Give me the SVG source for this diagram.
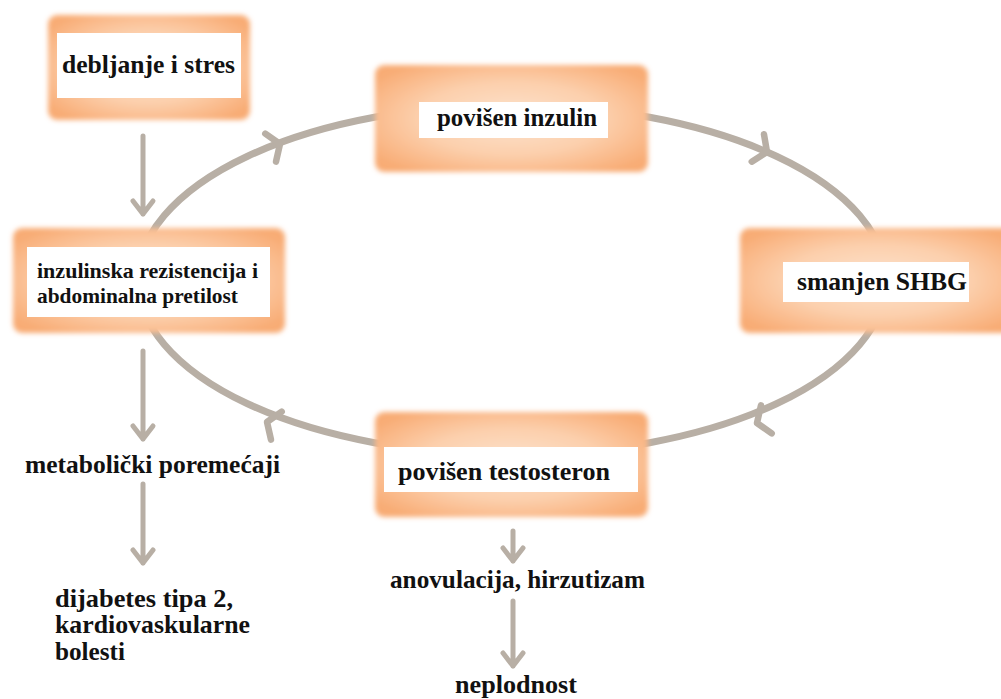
<svg xmlns="http://www.w3.org/2000/svg" width="1001" height="699" viewBox="0 0 1001 699">
<defs>
  <radialGradient id="og" cx="0.5" cy="0.5" r="0.62">
    <stop offset="0" stop-color="#fde4cf"/>
    <stop offset="0.55" stop-color="#fccfac"/>
    <stop offset="1" stop-color="#f8ac75"/>
  </radialGradient>
  <filter id="soft" x="-10%" y="-10%" width="120%" height="120%">
    <feGaussianBlur stdDeviation="2.5"/>
  </filter>
  <path id="chev" d="M -10,-15 L 0,0 L -10,15"/>
</defs>
<style>
  .outer { fill: url(#og); filter: url(#soft); }
  .inner { fill: #ffffff; }
  text { font-family: 'Liberation Serif', 'Times New Roman', serif; font-weight: 700; fill: #111111; font-size: 25px; }
  .ts { font-size: 21px; }
  .ring { fill: none; stroke: #b8afa5; stroke-width: 7; }
  .ln { fill: none; stroke: #b8afa5; stroke-width: 5; stroke-linecap: round; stroke-linejoin: round; }
  .ch { fill: none; stroke: #b8afa5; stroke-width: 6.5; stroke-linecap: round; stroke-linejoin: round; }
</style>
<rect width="1001" height="699" fill="#ffffff"/>

<g id="connectors">
  <ellipse class="ring" cx="512" cy="280" rx="374" ry="175"/>
  <use href="#chev" class="ch" transform="translate(280,144) rotate(-21)"/>
  <use href="#chev" class="ch" transform="translate(767,152) rotate(24)"/>
  <use href="#chev" class="ch" transform="translate(757,423) rotate(159)"/>
  <use href="#chev" class="ch" transform="translate(267,422) rotate(201)"/>
  <path class="ln" d="M143,136 L143,214 M133,201 L143,214 L153,201"/>
  <path class="ln" d="M143,351 L143,439 M133,426 L143,439 L153,426"/>
  <path class="ln" d="M143,484 L143,563 M133,550 L143,563 L153,550"/>
  <path class="ln" d="M513,531 L513,561 M503,548 L513,561 L523,548"/>
  <path class="ln" d="M513,601 L513,666 M503,653 L513,666 L523,653"/>
</g>

<g id="node-debljanje">
  <rect class="outer" x="48" y="15" width="202" height="105" rx="9"/>
  <rect class="inner" x="57" y="33" width="184" height="65"/>
  <text x="62" y="73" textLength="173" lengthAdjust="spacingAndGlyphs">debljanje i stres</text>
</g>

<g id="node-inzulin">
  <rect class="outer" x="375" y="65" width="273" height="107" rx="9"/>
  <rect class="inner" x="419" y="102" width="189" height="36"/>
  <text x="437" y="126" textLength="160" lengthAdjust="spacingAndGlyphs">povišen inzulin</text>
</g>

<g id="node-rezistencija">
  <rect class="outer" x="13" y="228" width="272" height="105" rx="9"/>
  <rect class="inner" x="27" y="247" width="243" height="70"/>
  <text class="ts" x="37" y="278" textLength="221" lengthAdjust="spacingAndGlyphs">inzulinska rezistencija i</text>
  <text class="ts" x="37" y="303" textLength="201" lengthAdjust="spacingAndGlyphs">abdominalna pretilost</text>
</g>

<g id="node-shbg">
  <rect class="outer" x="740" y="228" width="275" height="105" rx="9"/>
  <rect class="inner" x="783" y="262" width="186" height="40"/>
  <text x="797" y="290" textLength="170" lengthAdjust="spacingAndGlyphs">smanjen SHBG</text>
</g>

<g id="node-testosteron">
  <rect class="outer" x="375" y="412" width="273" height="105" rx="9"/>
  <rect class="inner" x="384" y="447" width="254" height="45"/>
  <text x="398" y="480" textLength="212" lengthAdjust="spacingAndGlyphs">povišen testosteron</text>
</g>

<g id="node-metabolicki">
  <text x="25" y="473" textLength="255" lengthAdjust="spacingAndGlyphs">metabolički poremećaji</text>
</g>

<g id="node-dijabetes">
  <text x="55" y="607" textLength="178" lengthAdjust="spacingAndGlyphs">dijabetes tipa 2,</text>
  <text x="55" y="633" textLength="195" lengthAdjust="spacingAndGlyphs">kardiovaskularne</text>
  <text x="55" y="660" textLength="70" lengthAdjust="spacingAndGlyphs">bolesti</text>
</g>

<g id="node-anovulacija">
  <text x="390" y="588" textLength="255" lengthAdjust="spacingAndGlyphs">anovulacija, hirzutizam</text>
</g>

<g id="node-neplodnost">
  <text x="455" y="693" textLength="122" lengthAdjust="spacingAndGlyphs">neplodnost</text>
</g>
</svg>
